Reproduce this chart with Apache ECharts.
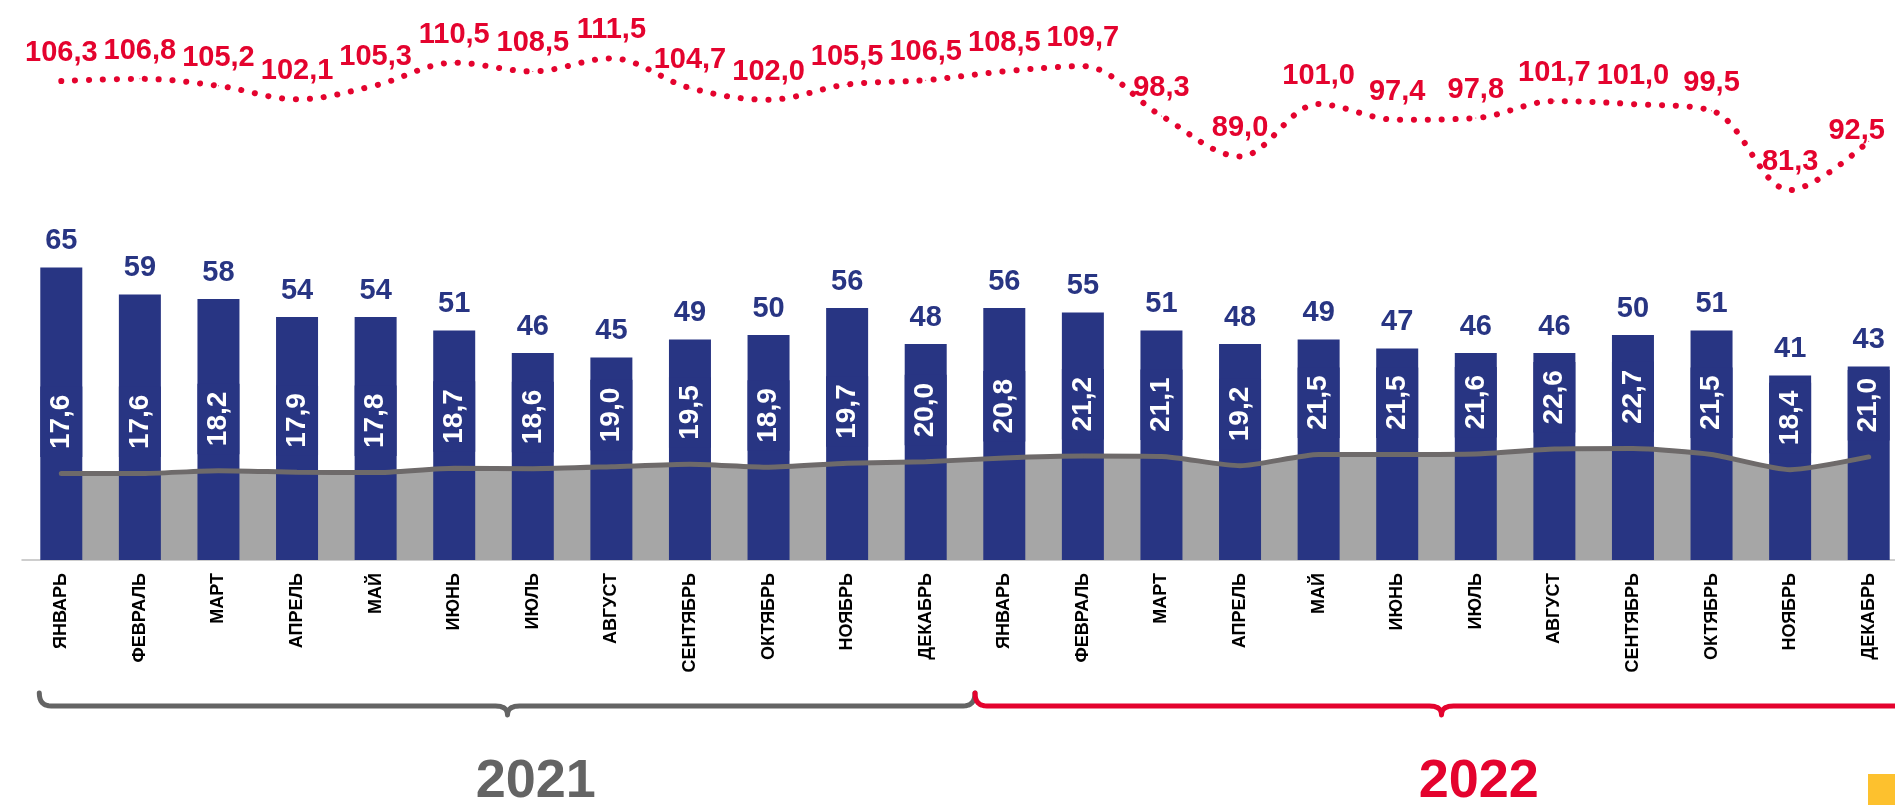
<!DOCTYPE html>
<html>
<head>
<meta charset="utf-8">
<script src="https://cdn.jsdelivr.net/npm/echarts@6/dist/echarts.min.js"></script>
<style>
  html, body { margin: 0; padding: 0; background: #fff; }
  #main { width: 1895px; height: 805px; }
</style>
</head>
<body>
<div id="main"></div>
<script>
const months = ['ЯНВАРЬ', 'ФЕВРАЛЬ', 'МАРТ', 'АПРЕЛЬ', 'МАЙ', 'ИЮНЬ',
  'ИЮЛЬ', 'АВГУСТ', 'СЕНТЯБРЬ', 'ОКТЯБРЬ', 'НОЯБРЬ', 'ДЕКАБРЬ'];
const categories = months.concat(months);
const years = ['2021', '2022'];

// blue bars
const barValues = [65, 59, 58, 54, 54, 51, 46, 45, 49, 50, 56, 48,
  56, 55, 51, 48, 49, 47, 46, 46, 50, 51, 41, 43];
// grey line / area (labels inside bars)
const greyValues = [17.6, 17.6, 18.2, 17.9, 17.8, 18.7, 18.6, 19.0, 19.5, 18.9, 19.7, 20.0,
  20.8, 21.2, 21.1, 19.2, 21.5, 21.5, 21.6, 22.6, 22.7, 21.5, 18.4, 21.0];
// red dotted line
const redValues = [106.3, 106.8, 105.2, 102.1, 105.3, 110.5, 108.5, 111.5, 104.7, 102.0, 105.5, 106.5,
  108.5, 109.7, 98.3, 89.0, 101.0, 97.4, 97.8, 101.7, 101.0, 99.5, 81.3, 92.5];

const FONT = 'Arial, "Liberation Sans", sans-serif';
const NAVY = '#283583';
const RED = '#E4032E';
const GREY_LINE = '#6E6A6A';
const GREY_AREA = '#A6A6A6';

const fmt1 = (p) => p.value.toFixed(1).replace('.', ',');

let myChart = echarts.init(document.getElementById('main'));

// last red label sits left of the right edge, like in the slide
const redData = redValues.map((v, i) =>
  i === redValues.length - 1 ? { value: v, label: { offset: [-12, 18] } } : v);

let option = {
  animation: false,
  grid: {
    left: 22,
    width: 1886,
    top: 20,
    bottom: 245,
    containLabel: false,
    outerBoundsMode: 'none',
  },
  xAxis: {
    type: 'category',
    data: categories,
    axisLine: { lineStyle: { color: '#BFBFBF', width: 1.5 } },
    axisTick: { length: 6, lineStyle: { color: '#BFBFBF' } },
    axisLabel: {
      interval: 0,
      rotate: 90,
      margin: 13,
      color: '#000',
      fontSize: 18,
      fontWeight: 'bold',
      fontFamily: FONT,
    },
  },
  yAxis: [
    { type: 'value', min: 0, max: 120, show: false },
    { type: 'value', min: 0, max: 110, show: false },
    { type: 'value', min: -3.6, max: 120.3, show: false },
  ],
  series: [
    {
      // grey area behind the bars
      type: 'line',
      yAxisIndex: 1,
      data: greyValues,
      smooth: 0.2,
      symbol: 'none',
      lineStyle: { width: 0 },
      areaStyle: { color: GREY_AREA, opacity: 1 },
      z: 1,
    },
    {
      type: 'bar',
      data: barValues,
      barWidth: 42,
      itemStyle: { color: NAVY },
      label: {
        show: true,
        position: 'top',
        distance: 12,
        color: NAVY,
        fontSize: 29,
        fontWeight: 'bold',
        fontFamily: FONT,
      },
      z: 2,
    },
    {
      // grey line on top of the bars
      type: 'line',
      yAxisIndex: 1,
      data: greyValues,
      smooth: 0.2,
      symbol: 'circle',
      symbolSize: 1,
      itemStyle: { color: GREY_LINE },
      lineStyle: { color: GREY_LINE, width: 5, cap: 'round' },
      label: {
        show: true,
        position: 'top',
        distance: 16,
        rotate: 90,
        align: 'left',
        verticalAlign: 'middle',
        color: '#fff',
        fontSize: 28,
        fontWeight: 'bold',
        fontFamily: FONT,
        backgroundColor: NAVY,
        padding: [7, 8],
        formatter: fmt1,
      },
      z: 3,
    },
    {
      type: 'line',
      yAxisIndex: 2,
      data: redData,
      smooth: 0.35,
      symbol: 'circle',
      symbolSize: 1,
      itemStyle: { color: RED },
      lineStyle: { color: RED, width: 6, type: [0.1, 13.8], cap: 'round' },
      label: {
        show: true,
        position: 'top',
        distance: 13,
        color: RED,
        fontSize: 29,
        fontWeight: 'bold',
        fontFamily: FONT,
        formatter: fmt1,
      },
      z: 3,
    },
  ],
};

myChart.setOption(option);

// braces and year captions under the axis
function quad(p0, c, p1, n) {
  let pts = [];
  for (let i = 0; i <= n; i++) {
    let t = i / n;
    let a = (1 - t) * (1 - t), b = 2 * (1 - t) * t, d = t * t;
    pts.push([a * p0[0] + b * c[0] + d * p1[0], a * p0[1] + b * c[1] + d * p1[1]]);
  }
  return pts;
}
function brace(x1, xm, x2, y) {
  const r = 12, h = 13, notch = 9;
  let pts = [];
  pts = pts.concat(quad([x1, y - h], [x1, y], [x1 + r, y], 8));
  pts = pts.concat(quad([xm - r, y], [xm, y], [xm, y + notch], 8));
  pts = pts.concat(quad([xm, y + notch], [xm, y], [xm + r, y], 8));
  pts = pts.concat(quad([x2 - r, y], [x2, y], [x2, y - h], 8));
  return pts;
}

const px = (i) => myChart.convertToPixel({ xAxisIndex: 0 }, i);
const step = px(1) - px(0);
const braceY = 706;
const split = px(11) + step / 2 + 10;
const b1 = brace(px(0) - 22, px(5) + step / 2 + 14, split, braceY);
const b2 = brace(split, px(17) + step / 2 + 5, px(23) + step / 2 + 20, braceY);
const yearColors = ['#646464', RED];

myChart.setOption({
  graphic: [
    {
      type: 'polyline',
      shape: { points: b1 },
      style: { stroke: yearColors[0], lineWidth: 5, fill: null, lineCap: 'round', lineJoin: 'round' },
    },
    {
      type: 'polyline',
      shape: { points: b2 },
      style: { stroke: yearColors[1], lineWidth: 5, fill: null, lineCap: 'round', lineJoin: 'round' },
    },
    ...years.map((y, k) => ({
      type: 'text',
      x: px(6 + 12 * k) + 3,
      y: 782,
      style: {
        text: y,
        fill: yearColors[k],
        fontSize: 54,
        fontWeight: 'bold',
        fontFamily: FONT,
        align: 'center',
        verticalAlign: 'middle',
      },
    })),
    {
      type: 'rect',
      shape: { x: 1868, y: 774, width: 27, height: 31 },
      style: { fill: '#FDC12E' },
    },
  ],
});

window.addEventListener('resize', () => myChart && myChart.resize());
</script>
</body>
</html>
